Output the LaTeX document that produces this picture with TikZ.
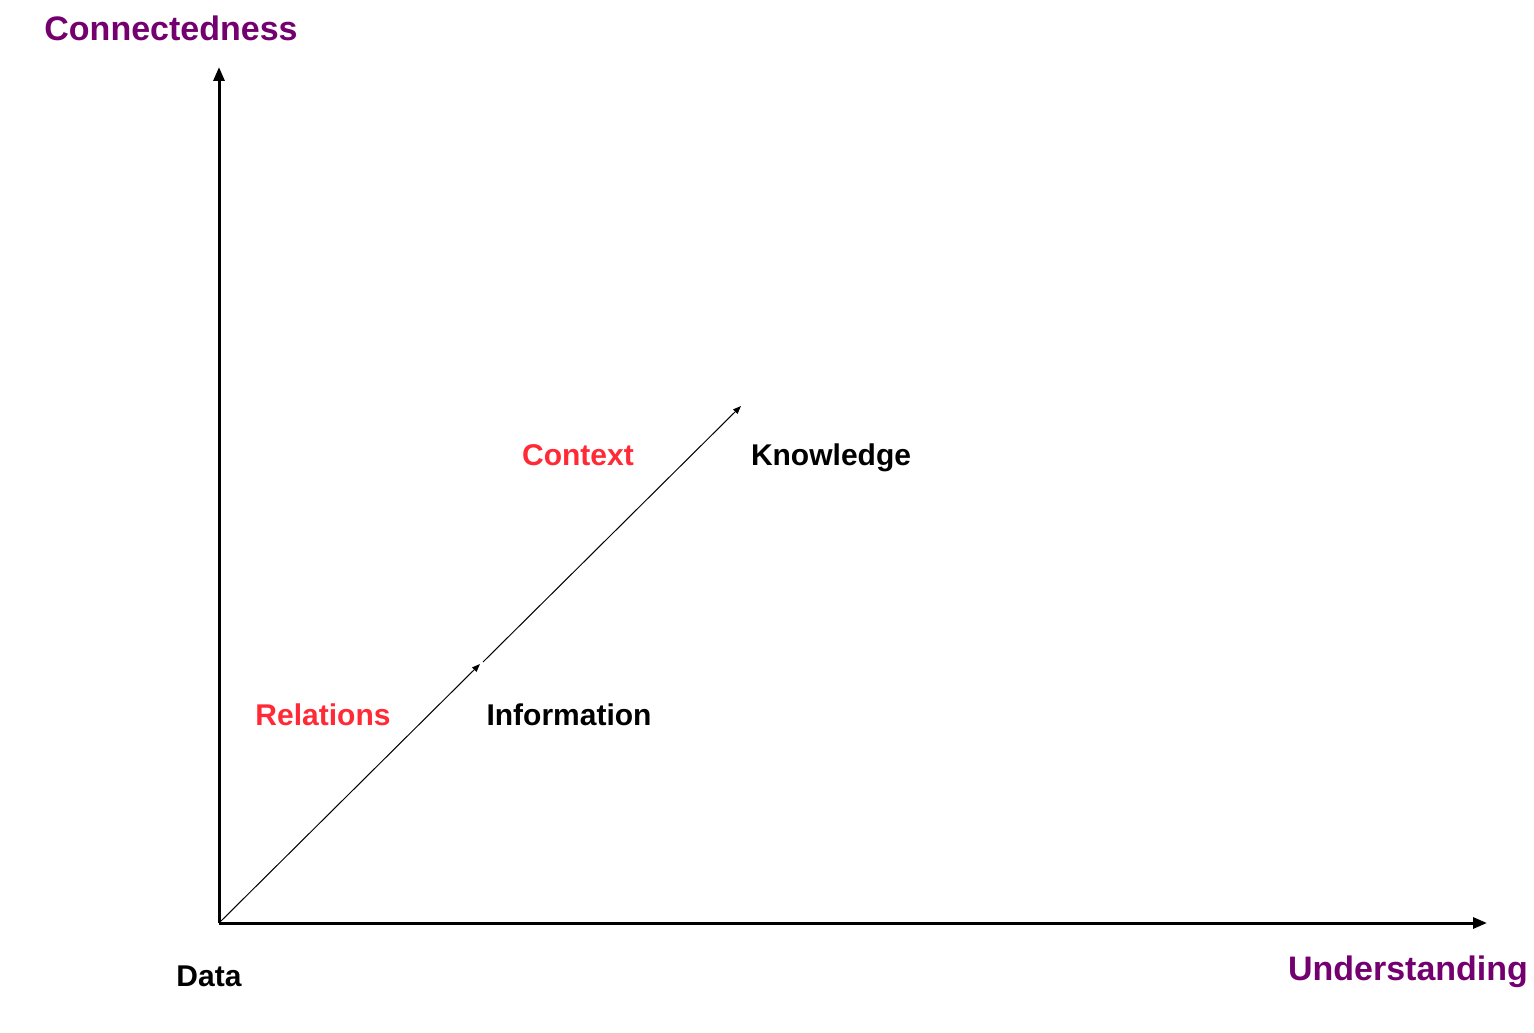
\documentclass[tikz,border=0pt]{standalone}
\usepackage{fontspec}
\setmainfont{Liberation Sans}
\usetikzlibrary{arrows.meta}
\definecolor{axpurple}{HTML}{740070}
\definecolor{relred}{HTML}{FF2A36}
\begin{document}
\begin{tikzpicture}[x=1pt,y=-1pt,
  axis/.style={line width=3pt,-{Triangle[length=14pt,width=11pt]}},
  diag/.style={line width=1pt,-{Triangle[length=8pt,width=6pt]}},
  axlabel/.style={text=axpurple,font=\fontsize{34}{40}\selectfont\bfseries,inner sep=0pt},
  lab/.style={text=black,font=\fontsize{30}{36}\selectfont\bfseries,inner sep=0pt},
  redlab/.style={text=relred,font=\fontsize{30}{36}\selectfont\bfseries,inner sep=0pt}]
\useasboundingbox (0,0) rectangle (1534,1033);
\coordinate (o) at (219,923);
\coordinate (ytip) at (219,67);
\coordinate (xtip) at (1487,923);
\coordinate (info) at (480,664);
\coordinate (infostart) at (483,662);
\coordinate (know) at (741,406);
\draw[axis] (o) -- (ytip);
\draw[axis] (o) -- (xtip);
\draw[diag] (o) -- (info);
\draw[diag] (infostart) -- (know);
\node[axlabel] (conn) at (171,28) {Connectedness};
\node[axlabel] (und) at (1408,972) {Understanding};
\node[lab] (data) at (209,976) {Data};
\node[redlab] (rel) at (323,715) {Relations};
\node[lab] (inf) at (569,715) {Information};
\node[redlab] (ctx) at (578,455) {Context};
\node[lab] (kn) at (831,458) {Knowledge};
\end{tikzpicture}
\end{document}
